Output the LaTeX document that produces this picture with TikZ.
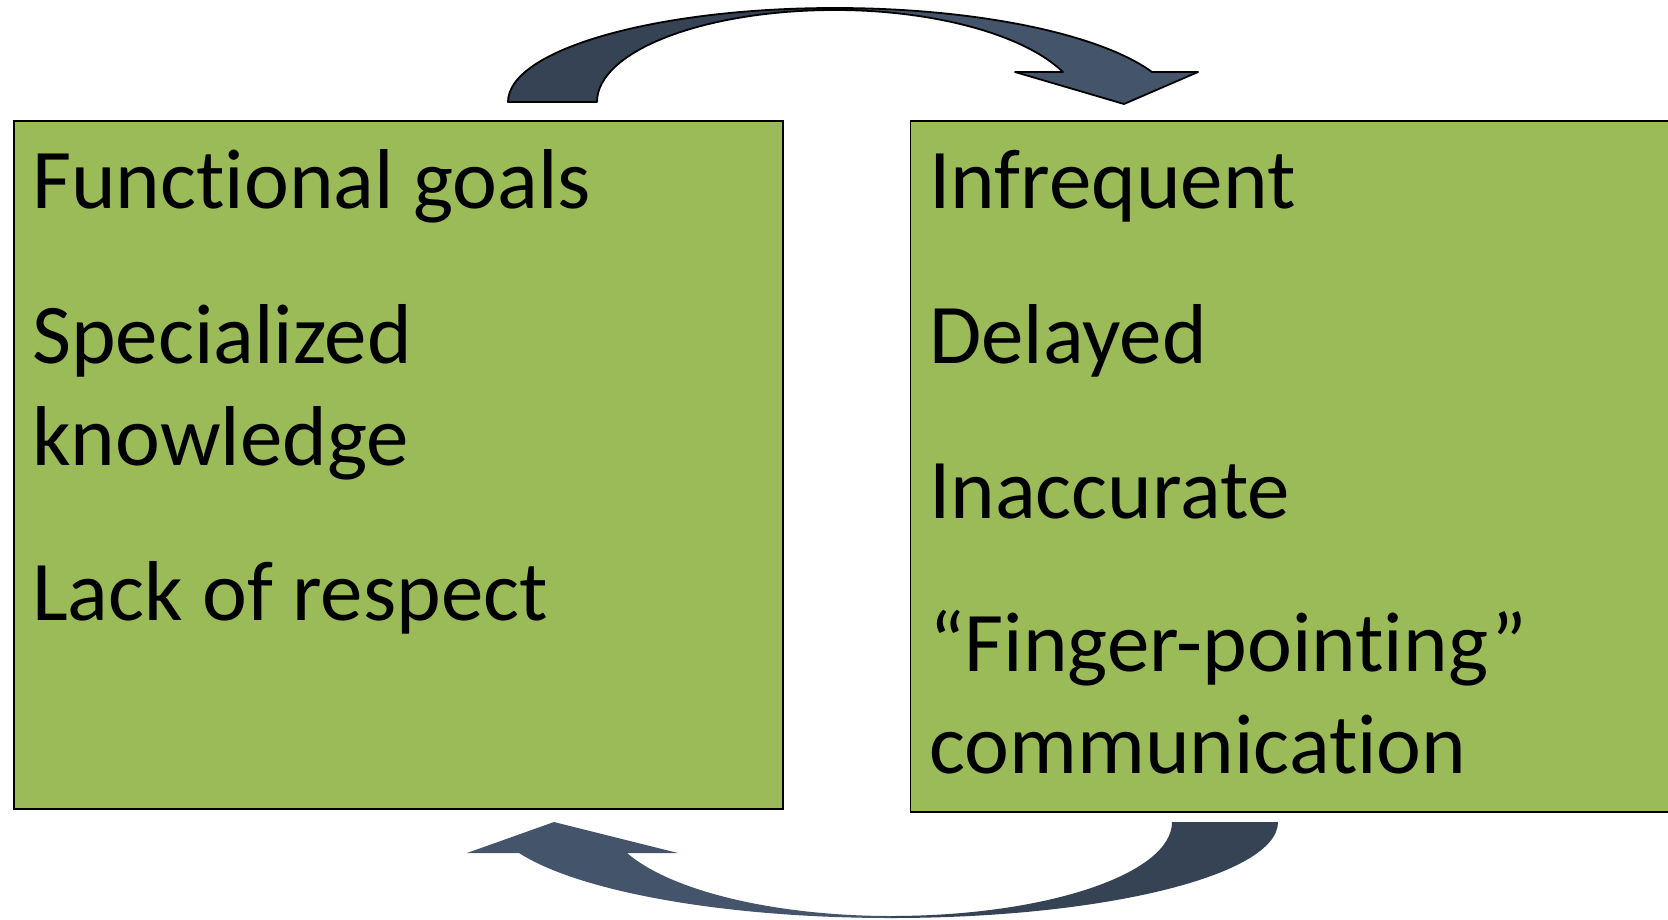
\documentclass[tikz,border=0pt]{standalone}
\usepackage{fontspec}
\setmainfont{Carlito}[Ligatures=NoCommon,RawFeature=-liga]
\definecolor{boxgreen}{HTML}{9BBB59}
\definecolor{arrowdark}{HTML}{364354}
\definecolor{arrowlight}{HTML}{44546A}
\begin{document}
\begin{tikzpicture}[x=1pt,y=-1pt,
  box/.style={draw=black, line width=1.8pt, fill=boxgreen, rectangle, inner sep=0pt, anchor=north west},
  item/.style={anchor=base west, inner sep=0pt, font=\fontsize{85}{102}\selectfont},
  outline/.style={draw=black, line width=1.8pt, line join=round}]
\clip (0,0) rectangle (1668,919);
\fill[white] (0,0) rectangle (1668,919);

% boxes
\node[box, minimum width=769pt, minimum height=688pt] (leftbox) at (12.8,120) {};
\node[box, minimum width=790pt, minimum height=691pt] (rightbox) at (909.5,120) {};

% left texts
\node[item] (l1) at (32,208) {Functional goals};
\node[item] (l2) at (32,363) {Specialized};
\node[item] (l3) at (32,465) {knowledge};
\node[item] (l4) at (32,620) {Lack of respect};

% right texts
\node[item] (r1) at (929,208) {Infrequent};
\node[item] (r2) at (929,363) {Delayed};
\node[item] (r3) at (929,518) {Inaccurate};
\node[item] (r4) at (929,671) {“Finger-pointing”};
\node[item] (r5) at (929,773) {communication};

% top curved arrow
\fill[arrowdark] (508,102) .. controls (508,50.1) and (654.4,8) .. (835,8) -- (835,10)
  .. controls (703.6,10) and (597,51.2) .. (597,102) -- cycle;
\fill[arrowlight] (835,8) .. controls (973.6,8) and (1098.7,33.2) .. (1152,72) -- (1198,72)
  -- (1124,104) -- (1015,72) -- (1063,72) .. controls (1024.1,34.5) and (934.2,10) .. (835,10) -- cycle;
\path[outline] (508,102) .. controls (508,50.1) and (654.4,8) .. (835,8)
  .. controls (973.6,8) and (1098.7,33.2) .. (1152,72) -- (1198,72) -- (1124,104) -- (1015,72) -- (1063,72)
  .. controls (1024.1,34.5) and (934.2,10) .. (835,10)
  .. controls (703.6,10) and (597,51.2) .. (597,102) -- cycle;

% bottom curved arrow
\fill[arrowdark] (1278,822) .. controls (1278,875) and (1104.7,918) .. (891,918) -- (891,916)
  .. controls (1046.2,916) and (1172,873.9) .. (1172,822) -- cycle;
\fill[arrowlight] (891,918) .. controls (727.6,918) and (580.3,892.3) .. (519,853) -- (467,853)
  -- (554,822) -- (678,853) -- (627,853) .. controls (671.2,891.1) and (775.3,916) .. (891,916) -- cycle;
\end{tikzpicture}
\end{document}
